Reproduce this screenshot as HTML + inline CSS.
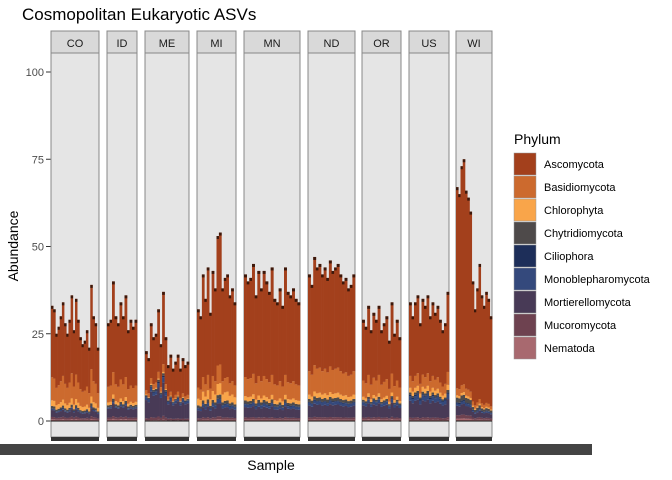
<!DOCTYPE html>
<html><head><meta charset="utf-8"><style>
body{margin:0;background:#fff;}
svg{display:block;font-family:"Liberation Sans",sans-serif;}
</style></head><body>
<svg id="chart" width="672" height="480"></svg>
<script>
const panels=["CO","ID","ME","MI","MN","ND","OR","US","WI"];
const panelX0=[51,107,145,197,244,308,362,409,456];
const panelX1=[99,137,189,236,300,355,401,449,492];
const phyla=["Ascomycota","Basidiomycota","Chlorophyta","Chytridiomycota","Ciliophora","Monoblepharomycota","Mortierellomycota","Mucoromycota","Nematoda"];
const colors=["#a3401c","#cc6a2e","#f9a54a","#4e4a4a","#1d2e59","#34497c","#483a56","#6e4250","#a8696f"];
const totals={
CO:[33,32,25,27,30,34,28,25,29,36,26,35,29,24,22,23,26,21,39,30,28,21],
ID:[28,29,40,30,28,34,30,36,26,29,27,29],
ME:[20,18,28,24,25,32,22,37,24,16,19,15,17,19,15,18,16,17],
MI:[32,30,42,35,44,31,43,38,53,54,38,41,42,36,38,34],
MN:[42,40,41,45,36,43,38,43,40,37,44,35,34,38,33,44,37,36,38,35,34],
ND:[42,39,47,44,45,42,44,41,46,43,44,45,42,40,41,38,39,42],
OR:[29,27,33,26,31,29,33,26,28,30,23,34,25,29,24],
US:[34,30,34,36,28,35,33,36,30,34,31,33,29,26,28,37],
WI:[67,65,73,75,66,64,60,40,32,38,45,36,33,37,35,30]
};
const composition={
CO:[0.62,0.2,0.05,0.02,0.005,0.01,0.06,0.02,0.015],
ID:[0.65,0.16,0.03,0.02,0.005,0.01,0.09,0.02,0.015],
ME:[0.56,0.06,0.01,0.02,0.01,0.04,0.26,0.03,0.01],
MI:[0.7,0.1,0.06,0.02,0.005,0.02,0.07,0.015,0.01],
MN:[0.7,0.13,0.03,0.02,0.005,0.02,0.07,0.015,0.01],
ND:[0.66,0.16,0.03,0.02,0.005,0.02,0.08,0.015,0.01],
OR:[0.6,0.16,0.03,0.02,0.005,0.03,0.12,0.02,0.015],
US:[0.62,0.1,0.04,0.02,0.01,0.04,0.14,0.02,0.01],
WI:[0.86,0.03,0.01,0.02,0.005,0.01,0.04,0.015,0.01]
};
const yTicks=[0,25,50,75,100];
const NS="http://www.w3.org/2000/svg";
const svg=document.getElementById("chart");
function yS(v){return 421-v*3.49;}
function mk(t,a,p){const e=document.createElementNS(NS,t);for(const k in a)e.setAttribute(k,a[k]);(p||svg).appendChild(e);return e;}
let t=mk("text",{x:22,y:20,"font-size":17,fill:"#000"});t.textContent="Cosmopolitan Eukaryotic ASVs";


yTicks.forEach(v=>{
 const l=mk("text",{x:44,y:yS(v)+4,"font-size":11,fill:"#4d4d4d","text-anchor":"end"});l.textContent=v;
 
 
 mk("line",{x1:46,x2:51,y1:yS(v),y2:yS(v),stroke:"#333"});
});
let yt=mk("text",{x:18,y:246,"font-size":14,"text-anchor":"middle",transform:"rotate(-90 18 246)"});yt.textContent="Abundance";


panels.forEach((p,i)=>{
 const x0=panelX0[i],x1=panelX1[i],w=x1-x0;
 const g=mk("g",{});
 
 
 mk("rect",{x:x0,y:31,width:w,height:22,fill:"#d9d9d9",stroke:"#888","stroke-width":1},g);
 const s=mk("text",{x:x0+w/2,y:47,"font-size":11,fill:"#1a1a1a","text-anchor":"middle"},g);s.textContent=p;
 
 
 mk("rect",{x:x0,y:53,width:w,height:384,fill:"#e5e5e5",stroke:"#888","stroke-width":1},g);
 const vals=totals[p],bw=w/vals.length,comp=composition[p];
 vals.forEach((v,j)=>{
  let base=0;const bx=x0+j*bw;
  for(let k=phyla.length-1;k>=0;k--){
   const h=v*comp[k];
   const r=mk("rect",{x:bx,y:yS(base+h),width:bw+0.3,height:h*3.49,fill:colors[k]},g);
   
   
   base+=h;
  }
  mk("rect",{x:bx,y:yS(v),width:bw+0.3,height:3,fill:"#2a1208",opacity:0.85},g);
 });
 mk("line",{x1:x0,x2:x1,y1:yS(0),y2:yS(0),stroke:"#111","stroke-width":1},g);
 mk("rect",{x:x0,y:437,width:w,height:4,fill:"#333"},g);
});
const band=mk("rect",{x:0,y:444,width:592,height:11,fill:"#444"});


let xl=mk("text",{x:592,y:453,"font-size":10,fill:"#444","text-anchor":"end"});xl.textContent="5618";
let xt=mk("text",{x:271,y:470,"font-size":14,"text-anchor":"middle"});xt.textContent="Sample";


let lt=mk("text",{x:514,y:144,"font-size":14});lt.textContent="Phylum";


phyla.forEach((n,i)=>{
 const y=153+i*23;
 const g=mk("g",{});
 
 
 mk("rect",{x:514,y:y,width:22,height:22,fill:colors[i],stroke:"#999","stroke-width":0.5},g);
 const tx=mk("text",{x:544,y:y+15,"font-size":11},g);tx.textContent=n;
});
</script>
</body></html>
